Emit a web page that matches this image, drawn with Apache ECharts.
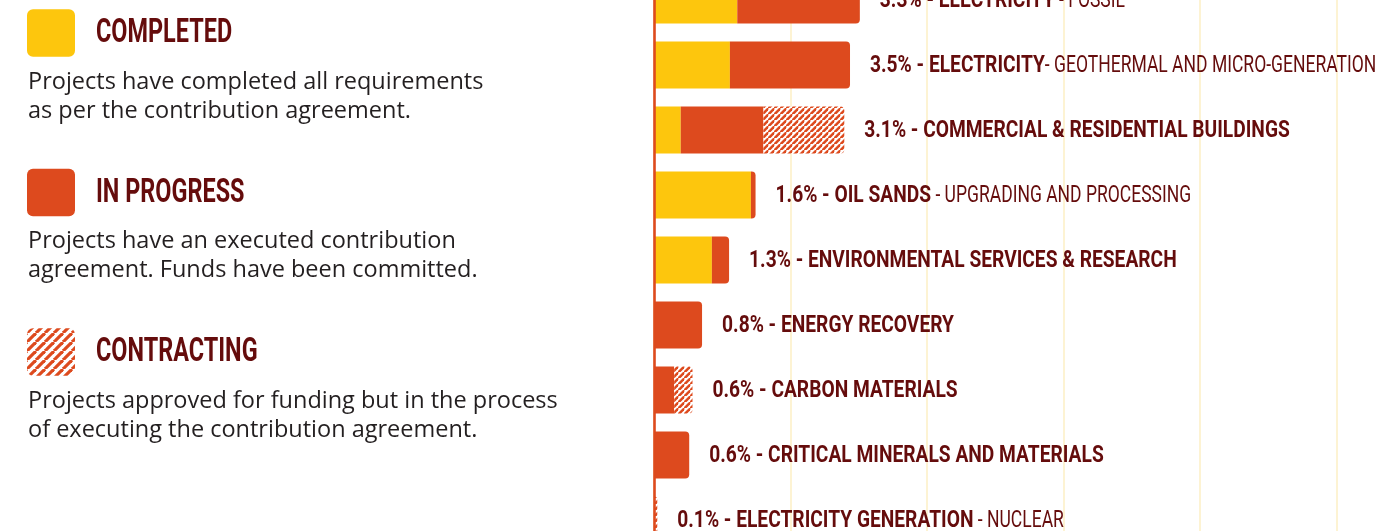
<!DOCTYPE html>
<html><head><meta charset="utf-8">
<script src="https://cdn.jsdelivr.net/npm/echarts@6/dist/echarts.min.js"></script>
<style>html,body{margin:0;padding:0;background:#fff}#chart{width:1391px;height:531px}</style>
</head><body><div id="chart"></div>
<script>
// ---- data ----
const shares = ['3.3%','3.5%','3.1%','1.6%','1.3%','0.8%','0.6%','0.6%','0.1%'];
const sectors = ['ELECTRICITY','ELECTRICITY','COMMERCIAL & RESIDENTIAL BUILDINGS','OIL SANDS','ENVIRONMENTAL SERVICES & RESEARCH','ENERGY RECOVERY','CARBON MATERIALS','CRITICAL MINERALS AND MATERIALS','ELECTRICITY GENERATION'];
const subsectors = [' - FOSSIL','- GEOTHERMAL AND MICRO-GENERATION','',' - UPGRADING AND PROCESSING','','','','',' - NUCLEAR'];
const completed   = [30.5, 27.8,  9.8, 35.5, 21.2,  0,   0,   0,   0];
const inProgress  = [44.9, 44.0, 30.3,  1.7,  6.3, 17.6, 7.4, 12.9, 0];
const contracting = [ 0,    0,   29.6,  0,    0,    0,   6.7,  0,   1.2];
const legendTitles = ['COMPLETED','IN PROGRESS','CONTRACTING'];
const legendTexts = [
  'Projects have completed all requirements\nas per the contribution agreement.',
  'Projects have an executed contribution\nagreement. Funds have been committed.',
  'Projects approved for funding but in the process\nof executing the contribution agreement.'
];

// ---- styles ----
const YEL = '#FDC60D', RED = '#DD4A1E', MAROON = '#650C0C', BODY = '#231F20';
const BOLD_FONT = 'bold 24px Roboto', REG_FONT = '24px Roboto';
const BOLD_SX = 0.8, REG_SX = 0.73;
function hatch(p, w) {
  const c = document.createElement('canvas'); c.width = p; c.height = p;
  const g = c.getContext('2d'); g.fillStyle = '#fff'; g.fillRect(0, 0, p, p);
  g.strokeStyle = RED; g.lineWidth = w;
  for (let k = -1; k <= 1; k++) { g.beginPath(); g.moveTo(k * p, p); g.lineTo(k * p + p, 0); g.stroke(); }
  return c;
}
const mctx = document.createElement('canvas').getContext('2d');
function textW(font, s) { mctx.font = font; return mctx.measureText(s).width; }

const segs = [completed, inProgress, contracting];
function lastIdx(i) { let l = -1; segs.forEach((s, j) => { if (s[i] > 0) l = j; }); return l; }
function mk(j) { return segs[j].map((v, i) => lastIdx(i) === j ? { value: v, itemStyle: { borderRadius: [0, 4, 4, 0] } } : v); }
const totals = shares.map((_, i) => completed[i] + inProgress[i] + contracting[i]);
const cats = shares.map((s, i) => s + ' - ' + sectors[i]);

const chart = echarts.init(document.getElementById('chart'), null, { renderer: 'canvas' });
const graphic = [];
legendTitles.forEach((t, k) => {
  const dy = k * 159.5;
  graphic.push({ type: 'rect', shape: { x: 27, y: 9.3 + dy, width: 48, height: 47.4, r: 6 },
    style: { fill: k === 2 ? { image: hatch(9, 3.2), repeat: 'repeat' } : [YEL, RED][k] } });
  graphic.push({ type: 'text', x: 96, y: 34 + dy, scaleX: 0.71,
    style: { x: 0, y: 0, text: t, font: 'bold 33px Roboto', fill: MAROON, verticalAlign: 'middle' } });
  graphic.push({ type: 'text', style: { x: 28, y: 67.8 + dy, text: legendTexts[k], font: '23.5px "Open Sans"', fill: BODY, lineHeight: 29, verticalAlign: 'top' } });
});

chart.setOption({
  animation: false,
  backgroundColor: '#fff',
  grid: { left: 654, top: -32.5, width: 819, height: 585, outerBoundsMode: 'none', containLabel: false },
  xAxis: { type: 'value', min: 0, max: 300, interval: 50,
    axisLine: { show: false }, axisTick: { show: false }, axisLabel: { show: false },
    splitLine: { lineStyle: { color: '#FDF3D3', width: 2 } } },
  yAxis: { type: 'category', data: cats, inverse: true, z: 10,
    axisLine: { show: true, lineStyle: { color: RED, width: 2.6 } },
    axisTick: { show: false }, axisLabel: { show: false }, splitLine: { show: false } },
  graphic: graphic,
  series: [
    { type: 'bar', name: 'Completed', stack: 't', barWidth: 47, data: mk(0), itemStyle: { color: YEL } },
    { type: 'bar', name: 'In progress', stack: 't', barWidth: 47, data: mk(1), itemStyle: { color: RED } },
    { type: 'bar', name: 'Contracting', stack: 't', barWidth: 47, data: mk(2), itemStyle: { color: { image: hatch(6.8, 2.5), repeat: 'repeat' } } },
    { type: 'custom', silent: true, z: 5, data: totals.map((t, i) => [t, i]), encode: { x: 0, y: 1 },
      renderItem: (params, api) => {
        const i = params.dataIndex;
        const pt = api.coord([api.value(0), api.value(1)]);
        const bw = textW(BOLD_FONT, cats[i]) * BOLD_SX;
        const children = [
          { type: 'text', x: 0, y: 0, scaleX: BOLD_SX,
            style: { x: 0, y: 0, text: cats[i], font: BOLD_FONT, fill: MAROON, verticalAlign: 'middle', align: 'left' } }
        ];
        if (subsectors[i]) children.push({ type: 'text', x: bw, y: 0, scaleX: REG_SX,
            style: { x: 0, y: 0, text: subsectors[i], font: REG_FONT, fill: MAROON, verticalAlign: 'middle', align: 'left' } });
        return { type: 'group', x: pt[0] + 20, y: pt[1] + 1, children: children };
      } }
  ]
});
</script></body></html>
